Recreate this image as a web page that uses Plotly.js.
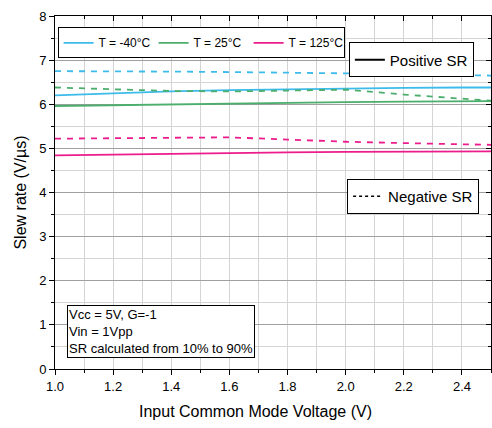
<!DOCTYPE html>
<html>
<head>
<meta charset="utf-8">
<script src="https://cdn.plot.ly/plotly-3.0.1.min.js"></script>
<style>
  html, body { margin: 0; padding: 0; background: #fff; }
  #chart { width: 492px; height: 428px; }
</style>
</head>
<body>
<div id="chart"></div>
<script>
// Input common-mode voltage (V)
const vcm = [1.0, 1.2, 1.4, 1.6, 1.8, 2.0, 2.2, 2.4, 2.5];

// Positive slew rate (V/µs)
const posM40 = [6.20, 6.25, 6.29, 6.32, 6.34, 6.36, 6.37, 6.38, 6.38];
const pos25  = [5.96, 5.98, 6.00, 6.02, 6.04, 6.05, 6.06, 6.07, 6.07];
const pos125 = [4.84, 4.86, 4.88, 4.90, 4.91, 4.92, 4.92, 4.93, 4.93];

// Negative slew rate (V/µs)
const negM40 = [6.75, 6.75, 6.74, 6.73, 6.72, 6.70, 6.68, 6.66, 6.65];
const neg25  = [6.38, 6.34, 6.30, 6.29, 6.31, 6.33, 6.22, 6.12, 6.08];
const neg125 = [5.22, 5.23, 5.25, 5.25, 5.20, 5.15, 5.12, 5.09, 5.08];

const tempNames = ['T = -40°C', 'T = 25°C', 'T = 125°C'];
const colors = ['#3dbbea', '#4cae6c', '#ec1c8c'];

const noteLines = ['Vcc = 5V, G=-1', 'Vin = 1Vpp', 'SR calculated from 10% to 90%'];
const xTitle = 'Input Common Mode Voltage (V)';
const yTitle = 'Slew rate (V/µs)';

const pos = [posM40, pos25, pos125];
const neg = [negM40, neg25, neg125];

const traces = [];
pos.forEach((ys, i) => {
  traces.push({
    x: vcm, y: ys, type: 'scatter', mode: 'lines', name: tempNames[i],
    line: { color: colors[i], width: 1.8 }, legend: 'legend', showlegend: true
  });
});
neg.forEach((ys, i) => {
  traces.push({
    x: vcm, y: ys, type: 'scatter', mode: 'lines', name: tempNames[i],
    line: { color: colors[i], width: 1.8, dash: '6px,6px' }, showlegend: false
  });
});
// Line-style keys
traces.push({ x: [null], y: [null], type: 'scatter', mode: 'lines', name: 'Positive SR',
  line: { color: '#000', width: 2 }, legend: 'legend2' });
traces.push({ x: [null], y: [null], type: 'scatter', mode: 'lines', name: 'Negative SR',
  line: { color: '#000', width: 1.5, dash: '3px,3px' }, legend: 'legend3' });
// Empty trace so the frame-tick overlay axes are drawn
traces.push({ x: [null], y: [null], xaxis: 'x2', yaxis: 'y2', showlegend: false, hoverinfo: 'skip' });

const font = { family: '"Liberation Sans", Arial, sans-serif', color: '#000' };
const legendBase = {
  bgcolor: '#fff', bordercolor: '#000', borderwidth: 1,
  font: Object.assign({}, font, { size: 13 }),
  xref: 'paper', yref: 'paper', xanchor: 'left', yanchor: 'top',
  itemwidth: 30, tracegroupgap: 0
};

const layout = {
  width: 492, height: 428,
  margin: { l: 55, r: 1, t: 16, b: 59 },
  paper_bgcolor: '#fff', plot_bgcolor: '#fff',
  font: font,
  xaxis: {
    range: [1.0, 2.5], dtick: 0.2, tick0: 1.0, tickformat: '.1f',
    showline: true, linecolor: '#000', linewidth: 1, mirror: true,
    ticks: 'outside', ticklen: 5, tickcolor: '#000',
    showgrid: true, gridcolor: '#d4d4d4', gridwidth: 1, zeroline: false,
    minor: { dtick: 0.1, ticks: 'outside', ticklen: 3, tickcolor: '#000', showgrid: true, gridcolor: '#d4d4d4' },
    tickfont: { size: 13 }
  },
  yaxis: {
    range: [0, 8], dtick: 1,
    showline: true, linecolor: '#000', linewidth: 1, mirror: true,
    ticks: 'outside', ticklen: 5, tickcolor: '#000',
    showgrid: true, gridcolor: '#a0a0a0', gridwidth: 1, zeroline: false,
    minor: { dtick: 0.5, ticks: 'outside', ticklen: 3, tickcolor: '#000', showgrid: true, gridcolor: '#d4d4d4' },
    tickfont: { size: 13 },
    title: { text: yTitle, font: { size: 16 }, standoff: 8 }
  },
  // inward ticks along the top and right frame
  xaxis2: {
    overlaying: 'x', matches: 'x', side: 'top', range: [1.0, 2.5], dtick: 0.2, tick0: 1.0,
    showticklabels: false, ticks: 'inside', ticklen: 5, tickcolor: '#000', showgrid: false,
    zeroline: false, minor: { dtick: 0.1, ticks: 'inside', ticklen: 3, tickcolor: '#000' }
  },
  yaxis2: {
    overlaying: 'y', matches: 'y', side: 'right', range: [0, 8], dtick: 1,
    showticklabels: false, ticks: 'inside', ticklen: 5, tickcolor: '#000', showgrid: false,
    zeroline: false, minor: { dtick: 0.5, ticks: 'inside', ticklen: 3, tickcolor: '#000' }
  },
  legend: Object.assign({}, legendBase, {
    orientation: 'h', x: 0.006, y: 0.968,
    font: Object.assign({}, font, { size: 12 }),
    entrywidth: 50, entrywidthmode: 'pixels'
  }),
  legend2: Object.assign({}, legendBase, { x: 0.674, y: 0.925, font: Object.assign({}, font, { size: 15 }) }),
  legend3: Object.assign({}, legendBase, { x: 0.67, y: 0.538, font: Object.assign({}, font, { size: 15 }) }),
  annotations: [{
    xref: 'paper', yref: 'paper', x: 0.027, y: 0.03, xanchor: 'left', yanchor: 'bottom',
    text: noteLines.join('<br>'), align: 'left', showarrow: false,
    font: Object.assign({}, font, { size: 13 }),
    bgcolor: '#fff', bordercolor: '#000', borderwidth: 1, borderpad: 1
  }, {
    xref: 'paper', yref: 'paper', x: 0.459, y: -0.119, xanchor: 'center', yanchor: 'middle',
    text: xTitle, showarrow: false, font: Object.assign({}, font, { size: 16 })
  }],
  showlegend: true
};

Plotly.newPlot('chart', traces, layout, { staticPlot: true, displayModeBar: false });
</script>
</body>
</html>
